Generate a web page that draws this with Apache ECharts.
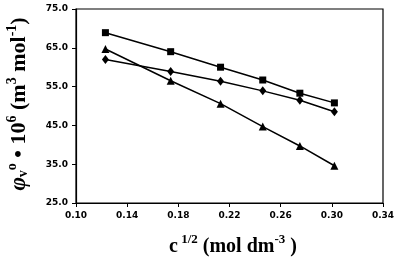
<!DOCTYPE html>
<html>
<head>
<meta charset="utf-8">
<script src="https://cdn.jsdelivr.net/npm/echarts@6/dist/echarts.min.js"></script>
<style>
html,body{margin:0;padding:0;background:#fff;}
#main{width:398px;height:261px;}
</style>
</head>
<body>
<div id="main"></div>
<script>
// x 值 c^1/2
var xValues=[0.123,0.174,0.213,0.246,0.275,0.302];
// 三组数据
var squareValues=[68.9,64.0,60.0,56.7,53.3,50.8];
var diamondValues=[62.0,58.9,56.4,53.9,51.5,48.5];
var triangleValues=[64.7,56.5,50.6,44.7,39.7,34.6];
var xTicks=[0.10,0.14,0.18,0.22,0.26,0.30,0.34];
var yTicks=[25.0,35.0,45.0,55.0,65.0,75.0];

function pairs(ys){
	var arr=[];
	for(var i=0;i<xValues.length;i++){
		arr.push([xValues[i],ys[i]]);
	}
	return arr;
}

var labelFont={color:'#000',fontSize:9,fontWeight:'bold',fontFamily:'DejaVu Sans'};
var serif='Liberation Serif';
var chart=echarts.init(document.getElementById('main'));
var option={
	backgroundColor:'#fff',
	animation:false,
	grid:{left:76,right:15,top:9,bottom:58,show:true,borderColor:'#000',borderWidth:1.2},
	xAxis:{
		type:'value',
		min:xTicks[0],
		max:xTicks[xTicks.length-1],
		interval:0.04,
		axisLine:{lineStyle:{color:'#000',width:1.2}},
		axisTick:{show:true,length:4,lineStyle:{color:'#000'}},
		splitLine:{show:false},
		axisLabel:Object.assign({margin:8,formatter:function(v){return v.toFixed(2);}},labelFont)
	},
	yAxis:{
		type:'value',
		min:yTicks[0],
		max:yTicks[yTicks.length-1],
		interval:10,
		axisLine:{show:true,lineStyle:{color:'#000',width:1.2}},
		axisTick:{show:true,length:4,lineStyle:{color:'#000'}},
		splitLine:{show:false},
		axisLabel:Object.assign({margin:8,formatter:function(v){return v.toFixed(1);}},labelFont)
	},
	graphic:[
		{
			type:'text',
			x:233,
			y:245,
			style:{
				text:'{n|c}{sup| 1/2}{n| (mol dm}{sup|-3}{n| )}',
				textAlign:'center',
				textVerticalAlign:'middle',
				rich:{
					n:{fontFamily:serif,fontWeight:'bold',fontSize:20,lineHeight:24,verticalAlign:'bottom',fill:'#000'},
					sup:{fontFamily:serif,fontWeight:'bold',fontSize:13,lineHeight:24,verticalAlign:'top',fill:'#000'}
				}
			}
		},
		{
			type:'text',
			x:18,
			y:104,
			rotation:Math.PI/2,
			style:{
				text:'{phi|φ}{sub|v}{sup|o}{n| • 10}{sup|6}{n| (m}{sup|3}{n| mol}{sup|-1}{n|)}',
				textAlign:'center',
				textVerticalAlign:'middle',
				rich:{
					phi:{fontFamily:serif,fontStyle:'italic',fontWeight:'bold',fontSize:23,lineHeight:25,verticalAlign:'bottom',fill:'#000'},
					n:{fontFamily:serif,fontWeight:'bold',fontSize:22,lineHeight:25,verticalAlign:'bottom',fill:'#000'},
					sup:{fontFamily:serif,fontWeight:'bold',fontSize:14,lineHeight:25,verticalAlign:'top',fill:'#000'},
					sub:{fontFamily:serif,fontWeight:'bold',fontSize:14,lineHeight:16,verticalAlign:'bottom',fill:'#000'}
				}
			}
		}
	],
	series:[
		{
			name:'square',type:'line',data:pairs(squareValues),
			symbol:'rect',symbolSize:7,
			lineStyle:{color:'#000',width:1.5},
			itemStyle:{color:'#000'}
		},
		{
			name:'diamond',type:'line',data:pairs(diamondValues),
			symbol:'diamond',symbolSize:[7,9],
			lineStyle:{color:'#000',width:1.5},
			itemStyle:{color:'#000'}
		},
		{
			name:'triangle',type:'line',data:pairs(triangleValues),
			symbol:'triangle',symbolSize:8,
			lineStyle:{color:'#000',width:1.5},
			itemStyle:{color:'#000'}
		}
	]
};
chart.setOption(option);
</script>
</body>
</html>
